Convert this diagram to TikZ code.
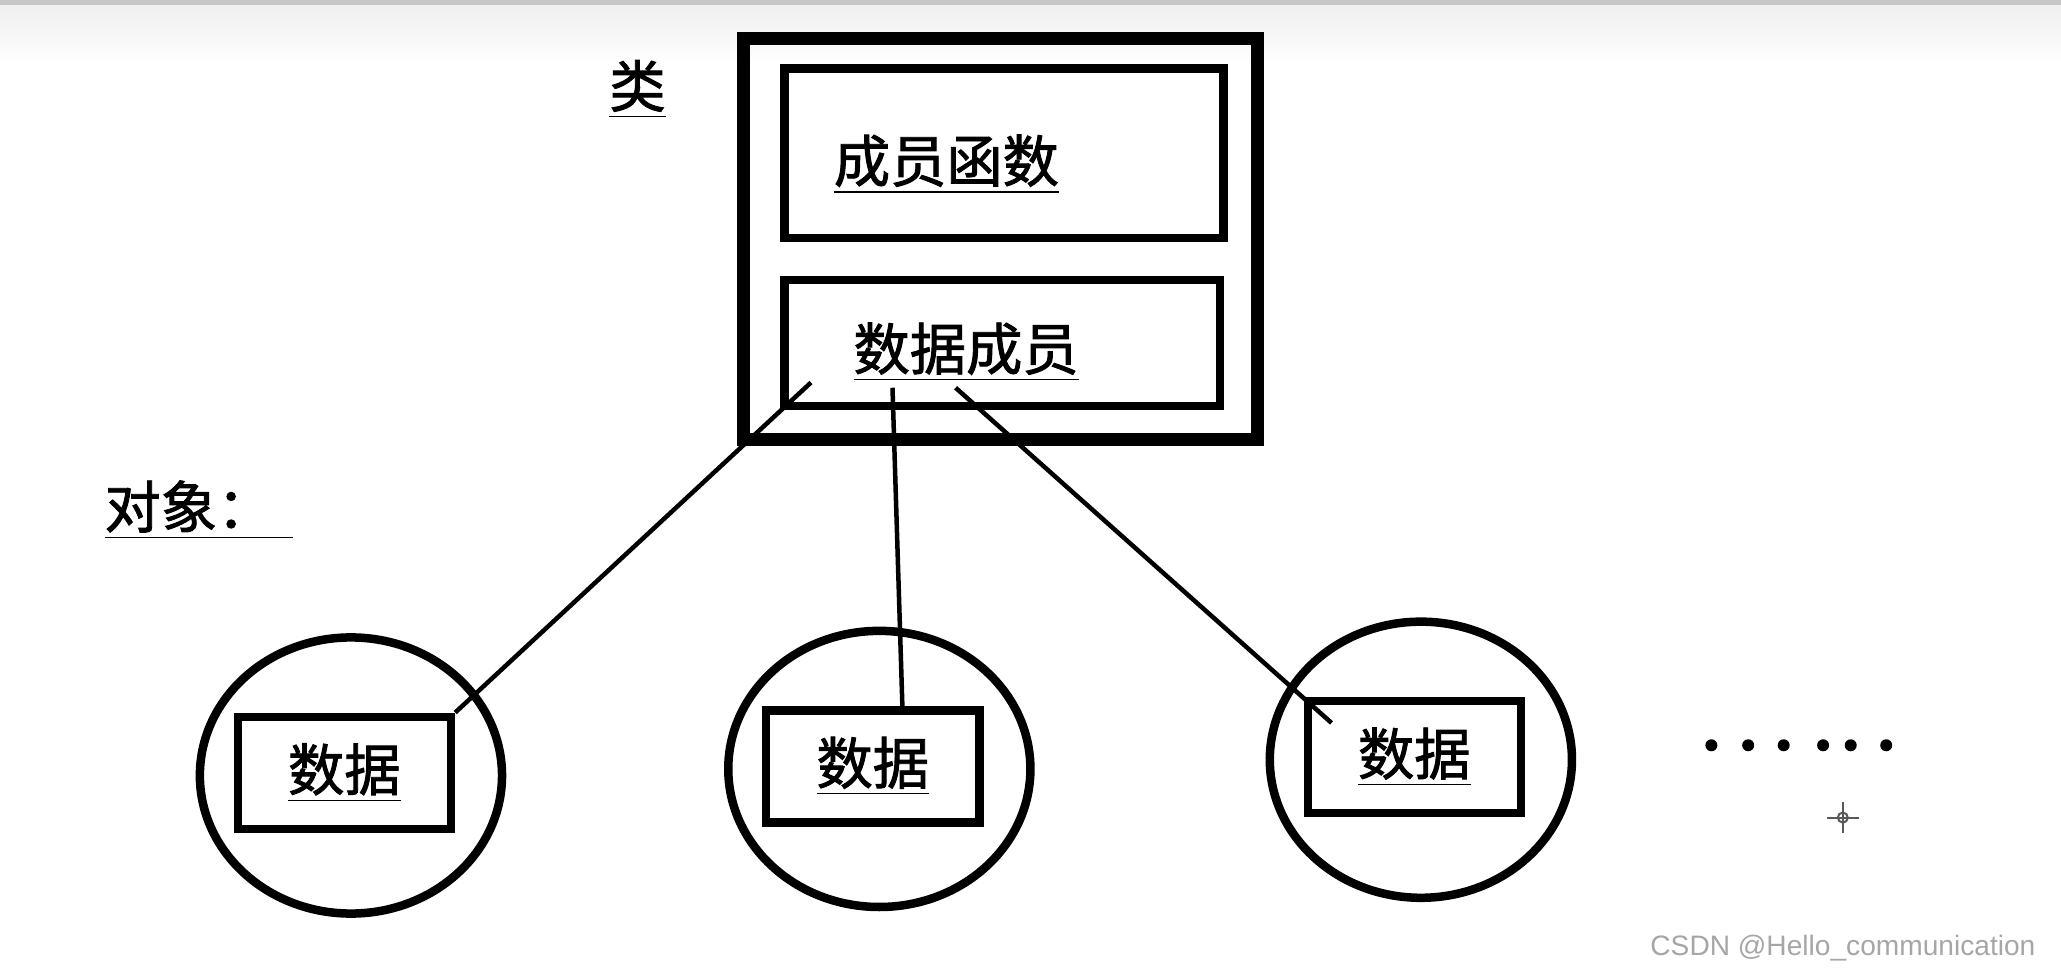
\documentclass[tikz,border=0pt]{standalone}
\usepackage{fontspec}
\newfontfamily\cjk[FakeBold=1.6]{Noto Sans CJK SC}
\newfontfamily\wmfont{Liberation Sans}
\usetikzlibrary{positioning}
\usetikzlibrary{shapes.geometric}
\tikzset{
  lbl/.style={font=\cjk\fontsize{16}{20}\selectfont, inner sep=0pt},
  box/.style={draw, line width=0.85mm, minimum width=2.13cm, minimum height=1.12cm},
  obj/.style={draw, line width=0.85mm, ellipse, minimum width=3.02cm, minimum height=2.76cm}
}
\begin{document}
\begin{tikzpicture}[x=0.01314cm, y=-0.01314cm]
        \useasboundingbox (0,0) rectangle (1568,735.7);
        % screenshot band
        \fill[gray!45] (0,0) rectangle (1568,4);
        \shade[top color=gray!12, bottom color=white] (0,4) rectangle (1568,50);

        % class
        \draw[line width=1.3mm] (566,29) rectangle (957,334);
        \draw[line width=0.85mm] (597,52) rectangle (931,181);
        \draw[line width=0.85mm] (597,213) rectangle (928,309);
        \node[lbl] (cls) at (485,68) {\underline{类}};
        \node[lbl] (func) at (720,125) {\underline{成员函数}};
        \node[lbl] (mem) at (735,268) {\underline{数据成员}};
        \node[lbl, anchor=west] (objs) at (79,388) {\underline{对象：\hspace{0.2cm}}};

        % objects
        \foreach \i/\x/\y in {1/267/590, 2/669/585, 3/1081/578} {
          \node[obj] (o\i) at (\x,\y) {};
          \node[box] (d\i) at (\x-5,\y-2) {};
          \node[lbl] at (d\i) {\underline{数据}};
        }

        % links
        \coordinate (m1) at (617,291);
        \coordinate (m2) at (679,295);
        \coordinate (m3) at (727,295);
        \draw[line width=0.45mm] (m1) -- (d1.north east);
        \draw[line width=0.45mm] (m2) -- ([xshift=0.02cm]d2.north east -| 685,0);
        \draw[line width=0.45mm] (m3) -- (1013,550);

        % more
        \foreach \x in {1302,1330,1357,1387,1408,1435}
          \fill (\x,567) circle (0.06cm);
        \draw[gray!70!black, line width=0.2mm] (1390,622) -- (1414,622) (1402,610) -- (1402,634);
        \draw[gray!70!black, line width=0.2mm] (1402,622) circle (0.05cm);
        \node[font=\wmfont\fontsize{8}{10}\selectfont, text=gray!70, anchor=east] (wm) at (1558,721) {CSDN @Hello\_communication};
\end{tikzpicture}
\end{document}
